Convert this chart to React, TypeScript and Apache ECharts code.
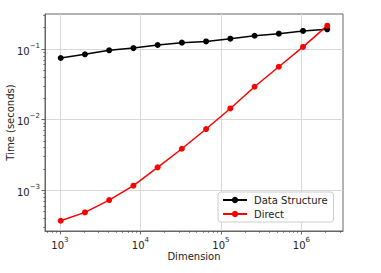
import React, { useEffect, useRef } from "react";
import * as echarts from "echarts";

const dimensions = [1024, 2048, 4096, 8192, 16384, 32768, 65536, 131072, 262144, 524288, 1048576, 2097152];
const dataStructureTimes = [0.0746, 0.0841, 0.0959, 0.103, 0.114, 0.123, 0.128, 0.14, 0.154, 0.165, 0.18, 0.19];
const directTimes = [0.00037, 0.000486, 0.000726, 0.00116, 0.00211, 0.00387, 0.00736, 0.0144, 0.0292, 0.0561, 0.107, 0.214];
const xTickValues = [1e3, 1e4, 1e5, 1e6];
const yTickValues = [1e-3, 1e-2, 1e-1];
const seriesNames = ["Data Structure", "Direct"];

const FONT = "DejaVu Sans";

function powLabel(v: number): string {
  const e = Math.round(Math.log10(v));
  const s = e < 0 ? "\u2212" + String(-e) : String(e);
  return `{b|10}{sup|${s}}`;
}

const rich = {
  b: { fontSize: 10, fontFamily: FONT, color: "#222", verticalAlign: "bottom", lineHeight: 14 },
  sup: { fontSize: 7, fontFamily: FONT, color: "#222", verticalAlign: "top", lineHeight: 14 },
};

export default function App() {
  const ref = useRef<HTMLDivElement>(null);
  useEffect(() => {
    if (!ref.current) return;
    const chart = echarts.init(ref.current, undefined, { renderer: "svg" });
    const axisCommon = {
      type: "log",
      logBase: 10,
      axisLine: { show: true, lineStyle: { color: "#666", width: 1 } },
      axisTick: { show: true, length: 3.5, lineStyle: { color: "#444", width: 0.8 } },
      minorTick: { show: true, splitNumber: 9, length: 2, lineStyle: { color: "#444", width: 0.6 } },
      splitLine: { show: true, lineStyle: { color: "#d9d9d9", width: 1 } },
      minorSplitLine: { show: false },
      nameMoveOverlap: false,
      nameTextStyle: { fontFamily: FONT, fontSize: 10, color: "#222" },
    };
    chart.setOption({
      animation: false,
      backgroundColor: "#fff",
      grid: {
        left: 45,
        top: 14,
        width: 298,
        height: 217,
        show: true,
        borderColor: "#666",
        borderWidth: 1,
        containLabel: false,
        outerBoundsMode: "none",
      },
      legend: {
        orient: "vertical",
        left: 218,
        top: 192,
        width: 119,
        data: seriesNames,
        backgroundColor: "#fff",
        borderColor: "#ccc",
        borderWidth: 1,
        borderRadius: 3,
        padding: [3, 6, 3, 4],
        itemGap: 4,
        itemWidth: 24,
        itemHeight: 8,
        textStyle: { fontFamily: FONT, fontSize: 10, color: "#222", padding: [0, 0, 0, 2] },
      },
      xAxis: {
        ...axisCommon,
        min: 653,
        max: 3.29e6,
        name: "Dimension",
        nameLocation: "middle",
        nameGap: 20,
        axisTick: { ...axisCommon.axisTick, customValues: xTickValues },
        axisLabel: {
          customValues: xTickValues,
          margin: 5,
          formatter: (v: number) => powLabel(v),
          rich,
        },
      },
      yAxis: {
        ...axisCommon,
        min: 2.65e-4,
        max: 0.313,
        name: "Time (seconds)",
        nameLocation: "middle",
        nameRotate: 90,
        nameGap: 30,
        axisTick: { ...axisCommon.axisTick, customValues: yTickValues },
        axisLabel: {
          customValues: yTickValues,
          margin: 5,
          formatter: (v: number) => powLabel(v),
          rich,
        },
      },
      series: [
        {
          name: seriesNames[0],
          type: "line",
          data: dimensions.map((d, i) => [d, dataStructureTimes[i]]),
          symbol: "circle",
          symbolSize: 6,
          color: "#000",
          lineStyle: { color: "#000", width: 1.5 },
          itemStyle: { color: "#000" },
          clip: false,
        },
        {
          name: seriesNames[1],
          type: "line",
          data: dimensions.map((d, i) => [d, directTimes[i]]),
          symbol: "circle",
          symbolSize: 6,
          color: "#ff0000",
          lineStyle: { color: "#ff0000", width: 1.5 },
          itemStyle: { color: "#ff0000" },
          clip: false,
        },
      ],
    });
    return () => chart.dispose();
  }, []);
  return (
    <div
      ref={ref}
      style={{ position: "absolute", left: 0, top: 0, width: 381, height: 273 }}
    />
  );
}
